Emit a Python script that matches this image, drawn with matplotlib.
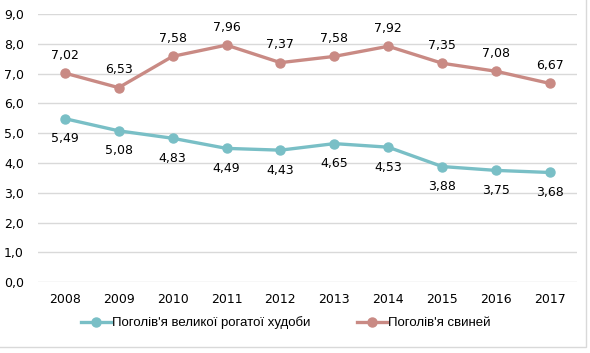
import matplotlib.pyplot as plt
from matplotlib.patches import Rectangle

years = ["2008", "2009", "2010", "2011", "2012", "2013", "2014", "2015", "2016", "2017"]
cattle = [5.49, 5.08, 4.83, 4.49, 4.43, 4.65, 4.53, 3.88, 3.75, 3.68]
pigs = [7.02, 6.53, 7.58, 7.96, 7.37, 7.58, 7.92, 7.35, 7.08, 6.67]
cattle_label = "Поголів'я великої рогатої худоби"
pigs_label = "Поголів'я свиней"

teal = "#79BFC6"
rose = "#C98A84"

fig = plt.figure(figsize=(5.9, 3.53), dpi=100)
ax = fig.add_axes([0.064, 0.201, 0.914, 0.759])

x = list(range(len(years)))
ax.plot(x, cattle, color=teal, linewidth=2.4, marker="o", markersize=6.5, label=cattle_label)
ax.plot(x, pigs, color=rose, linewidth=2.4, marker="o", markersize=6.5, label=pigs_label)

fmt = lambda v: f"{v:.2f}".replace(".", ",")
for i, v in enumerate(cattle):
    ax.annotate(fmt(v), (i, v), xytext=(0, -14.5), textcoords="offset points",
                ha="center", va="center", fontsize=9)
for i, v in enumerate(pigs):
    ax.annotate(fmt(v), (i, v), xytext=(0, 13), textcoords="offset points",
                ha="center", va="center", fontsize=9)

ax.set_xlim(-0.5, len(years) - 0.5)
ax.set_ylim(0, 9)
ax.set_yticks(range(0, 10))
ax.set_yticklabels([f"{v},0" for v in range(0, 10)], fontsize=9)
ax.set_xticks(x)
ax.set_xticklabels(years, fontsize=9)
ax.tick_params(length=0, pad=8)
ax.tick_params(axis="y", pad=10)
ax.grid(axis="y", color="#D9D9D9", linewidth=1)
ax.set_axisbelow(True)
for s in ax.spines.values():
    s.set_visible(False)

fig.legend(loc="center", bbox_to_anchor=(0.484, 0.085), ncol=2, frameon=False,
           prop={"family": "Liberation Sans", "size": 9.5}, handlelength=2.3,
           handletextpad=0.05, columnspacing=3.5)

fig.patches.append(Rectangle((-0.01, 0.017), 1.004, 1.0, transform=fig.transFigure,
                             fill=False, edgecolor="#D9D9D9", linewidth=1))

fig.savefig("out.png", dpi=100)
